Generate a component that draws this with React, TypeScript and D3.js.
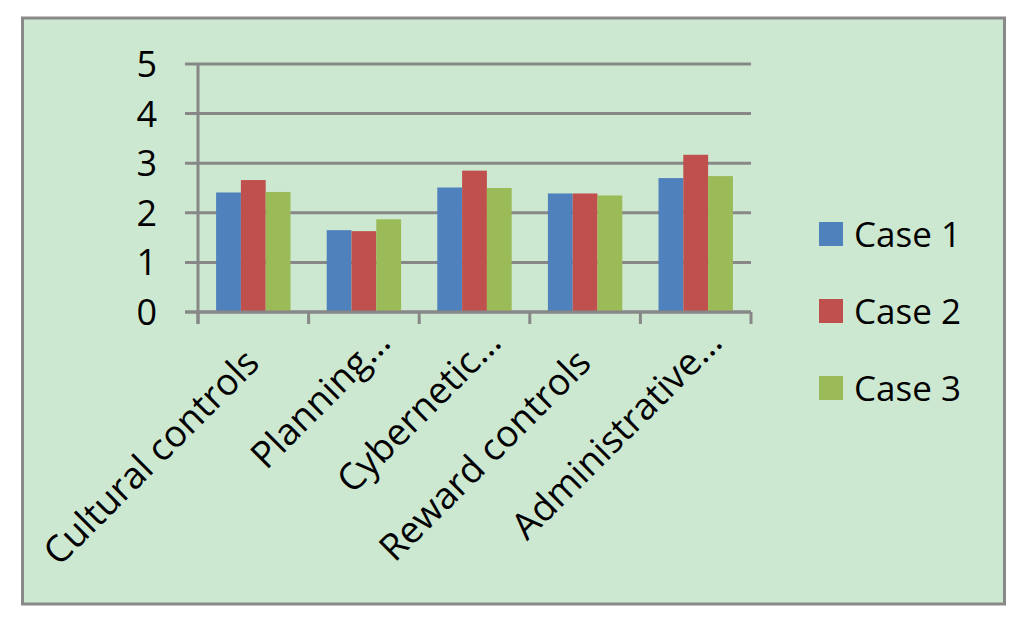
import * as React from 'react';
import { scaleBand, scaleLinear } from 'd3';

const categories = ['Cultural controls', 'Planning…', 'Cybernetic…', 'Reward controls', 'Administrative…'];
const seriesNames = ['Case 1', 'Case 2', 'Case 3'];
const case1 = [2.41, 1.65, 2.51, 2.39, 2.70];
const case2 = [2.66, 1.63, 2.85, 2.39, 3.17];
const case3 = [2.42, 1.87, 2.50, 2.35, 2.74];
const yTicks = [0, 1, 2, 3, 4, 5];

const colors = ['#4F81BD', '#C0504D', '#9BBB59'];
const series = [case1, case2, case3];

const W = 1024;
const H = 629;
const font = '"Open Sans", sans-serif';

/* Chart */
export default function App(): JSX.Element {
    const x0 = scaleBand<string>().domain(categories).range([198, 751]);
    const x1 = scaleBand<string>()
        .domain(seriesNames)
        .range([0, x0.bandwidth()])
        .paddingOuter(0.73);
    const y = scaleLinear().domain([0, 5]).range([312, 64]);

    // category boundaries for the small ticks under the axis
    const bounds = categories.map(c => x0(c) as number).concat([x0.range()[1]]);

    return (
        <svg width={W} height={H} style={{ position: 'absolute', left: 0, top: 0 }}>
            <rect x={0} y={0} width={W} height={H} fill="#ffffff" />
            <rect x={22.5} y={18} width={982} height={586} fill="#CDE8D0" stroke="#898989" strokeWidth={3} />

            {/* gridlines + y labels */}
            {yTicks.map(t => (
                <g key={t}>
                    <line x1={185} x2={751} y1={y(t)} y2={y(t)} stroke="#878787" strokeWidth={3} />
                    <text x={157} y={y(t)} dy="0.36em" textAnchor="end" fontFamily={font} fontSize={36} fill="#000">
                        {t}
                    </text>
                </g>
            ))}

            {/* bars */}
            {categories.map((c, i) => (
                <g key={c} transform={`translate(${x0(c)},0)`}>
                    {series.map((s, j) => (
                        <rect
                            key={j}
                            x={x1(seriesNames[j])}
                            y={y(s[i])}
                            width={x1.bandwidth()}
                            height={y(0) - y(s[i])}
                            fill={colors[j]}
                        />
                    ))}
                </g>
            ))}

            {/* axes */}
            <line x1={198} x2={198} y1={y(5)} y2={324} stroke="#878787" strokeWidth={3} />
            <line x1={185} x2={751} y1={y(0)} y2={y(0)} stroke="#878787" strokeWidth={3} />
            {bounds.map((b, i) => (
                <line key={i} x1={b} x2={b} y1={y(0)} y2={324} stroke="#878787" strokeWidth={3} />
            ))}

            {/* category labels */}
            {categories.map(c => {
                const cx = (x0(c) as number) + x0.bandwidth() / 2 + 8;
                const shift = c.endsWith('…') ? 29 : 0;
                return (
                    <text
                        key={c}
                        transform={`translate(${cx},365) rotate(-45)`}
                        dx={shift}
                        textAnchor="end"
                        fontFamily={font}
                        fontSize={37}
                        fill="#000"
                    >
                        {c}
                    </text>
                );
            })}

            {/* legend */}
            {seriesNames.map((n, j) => {
                const ly = 234 + j * 77;
                return (
                    <g key={n}>
                        <rect x={819} y={ly - 12} width={24} height={24} fill={colors[j]} />
                        <text x={854} y={ly} dy="0.36em" fontFamily={font} fontSize={35} fill="#000">
                            {n}
                        </text>
                    </g>
                );
            })}
        </svg>
    );
}
